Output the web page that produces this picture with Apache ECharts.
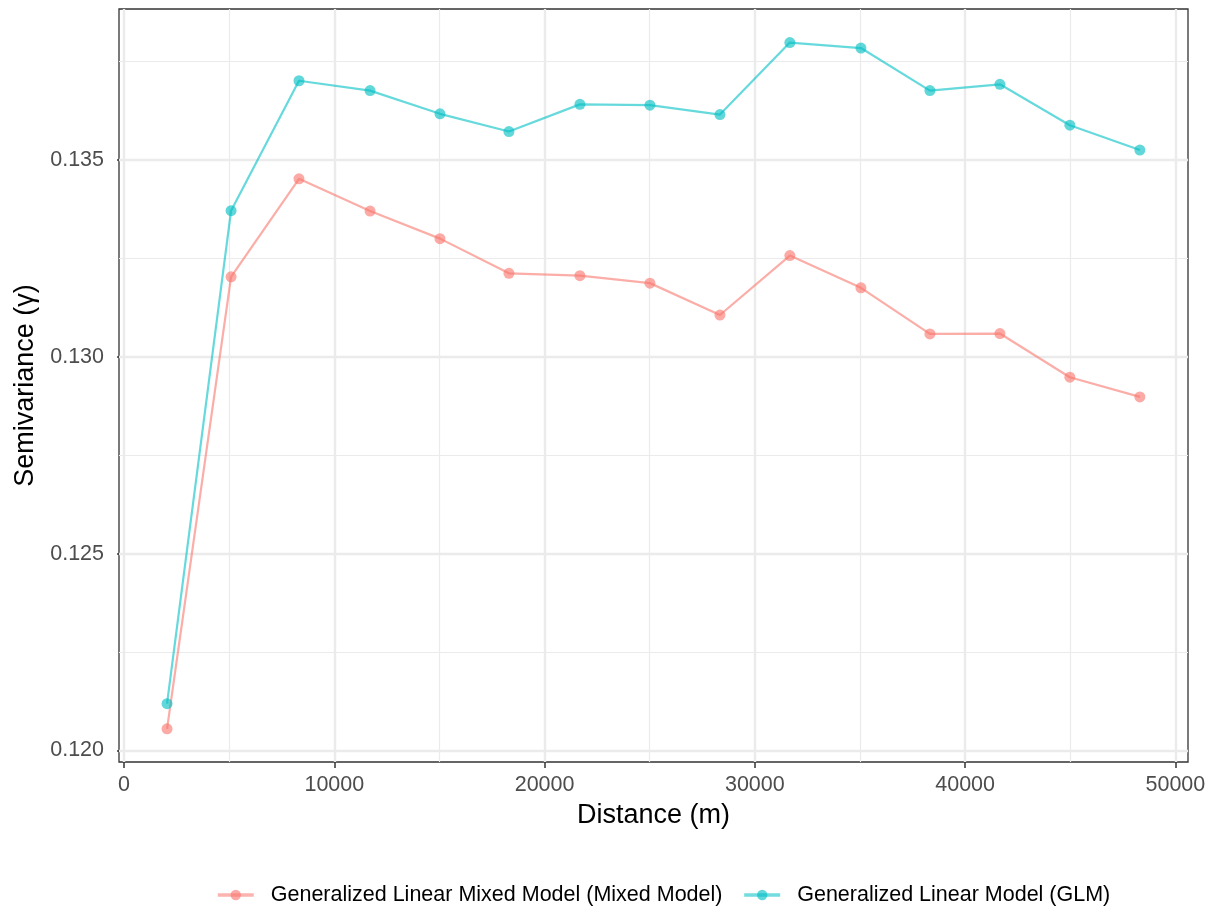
<!DOCTYPE html>
<html>
<head>
<meta charset="utf-8">
<script src="https://cdn.jsdelivr.net/npm/echarts@6/dist/echarts.min.js"></script>
<style>
  html, body { margin: 0; padding: 0; background: #ffffff; }
  #chart { width: 1217px; height: 912px; }
</style>
</head>
<body>
<div id="chart"></div>
<script>
// Lag distances of the variogram bins (m)
const distances = [2045, 5090, 8320, 11700, 15025, 18305, 21680, 25010, 28340, 31665, 35045, 38325, 41655, 44980, 48310];
// Semivariance of the mixed-model residuals
const glmmValues = [0.12055, 0.13203, 0.13452, 0.13370, 0.13300, 0.13212, 0.13206, 0.13187, 0.13106, 0.13257, 0.13175, 0.13058, 0.13059, 0.12948, 0.12898];
// Semivariance of the GLM residuals
const glmValues = [0.12119, 0.13371, 0.13701, 0.13676, 0.13617, 0.13572, 0.13641, 0.13639, 0.13615, 0.13798, 0.13784, 0.13676, 0.13692, 0.13588, 0.13525];

const seriesNames = ['Generalized Linear Mixed Model (Mixed Model)', 'Generalized Linear Model (GLM)'];
const seriesColors = ['#F8766D', '#00BFC4'];

// Axis breaks
const xMajorTicks = [0, 10000, 20000, 30000, 40000, 50000];
const xMinorTicks = [5000, 15000, 25000, 35000, 45000];
const yMajorTicks = [0.120, 0.125, 0.130, 0.135];
const yMinorTicks = [0.1225, 0.1275, 0.1325, 0.1375];

const FONT = '"Liberation Sans", Arial, Helvetica, sans-serif';

const pairs = (xs, ys) => xs.map((x, i) => [x, ys[i]]);

// Panel grid lines (major wider than minor), placed through the axes
const gridLineData = [].concat(
  xMinorTicks.map(v => ({ xAxis: v, lineStyle: { width: 1.2 } })),
  yMinorTicks.map(v => ({ yAxis: v, lineStyle: { width: 1.2 } })),
  xMajorTicks.map(v => ({ xAxis: v, lineStyle: { width: 2.4 } })),
  yMajorTicks.map(v => ({ yAxis: v, lineStyle: { width: 2.4 } }))
);

function dataSeries(name, color, values) {
  return {
    name: name,
    type: 'line',
    data: pairs(distances, values),
    z: 5,
    symbol: 'circle',
    symbolSize: 11,
    showSymbol: true,
    color: color,
    lineStyle: { color: color, width: 2.2, opacity: 0.6 },
    itemStyle: { color: color, opacity: 0.62, borderWidth: 0 },
    emphasis: { disabled: true },
    animation: false
  };
}

const chart = echarts.init(document.getElementById('chart'), null, { renderer: 'canvas' });

chart.setOption({
  backgroundColor: '#ffffff',
  animation: false,
  grid: {
    left: 119,
    right: 29,
    top: 9,
    bottom: 150,
    show: true,
    borderColor: '#333333',
    borderWidth: 1.3,
    backgroundColor: 'transparent'
  },
  legend: {
    data: seriesNames,
    left: 211,
    top: 879,
    itemWidth: 36,
    itemHeight: 13,
    itemGap: 20,
    lineStyle: { width: 3.5, opacity: 0.55 },
    itemStyle: { opacity: 0.62 },
    textStyle: { fontFamily: FONT, fontSize: 21.5, color: '#000000', padding: [0, 0, 0, 12] },
    selectedMode: false
  },
  xAxis: {
    type: 'value',
    min: -240,
    max: 50600,
    name: 'Distance (m)',
    nameLocation: 'middle',
    nameGap: 40,
    nameTextStyle: { fontFamily: FONT, fontSize: 27, color: '#000000' },
    axisLine: { show: false },
    axisTick: { show: true, customValues: xMajorTicks, length: 6, lineStyle: { color: '#333333', width: 1.5 } },
    axisLabel: {
      customValues: xMajorTicks,
      margin: 12,
      fontFamily: FONT,
      fontSize: 21.5,
      color: '#4D4D4D',
      formatter: v => String(Math.round(v))
    },
    splitLine: { show: false }
  },
  yAxis: {
    type: 'value',
    min: 0.119708,
    max: 0.138832,
    name: 'Semivariance (\u03b3)',
    nameLocation: 'middle',
    nameGap: 80,
    nameRotate: 90,
    nameTextStyle: { fontFamily: FONT, fontSize: 27, color: '#000000' },
    axisLine: { show: false },
    axisTick: { show: true, customValues: yMajorTicks, length: 7, lineStyle: { color: '#333333', width: 1.5 } },
    axisLabel: {
      customValues: yMajorTicks,
      margin: 15,
      fontFamily: FONT,
      fontSize: 21.5,
      color: '#4D4D4D',
      formatter: v => v.toFixed(3)
    },
    splitLine: { show: false }
  },
  series: [
    {
      name: 'panel-grid',
      type: 'line',
      data: [],
      z: 1,
      silent: true,
      markLine: {
        silent: true,
        precision: 8,
        symbol: ['none', 'none'],
        label: { show: false },
        animation: false,
        emphasis: { disabled: true },
        lineStyle: { color: '#EBEBEB', type: 'solid', width: 1 },
        data: gridLineData
      }
    },
    dataSeries(seriesNames[0], seriesColors[0], glmmValues),
    dataSeries(seriesNames[1], seriesColors[1], glmValues)
  ]
});
</script>
</body>
</html>
